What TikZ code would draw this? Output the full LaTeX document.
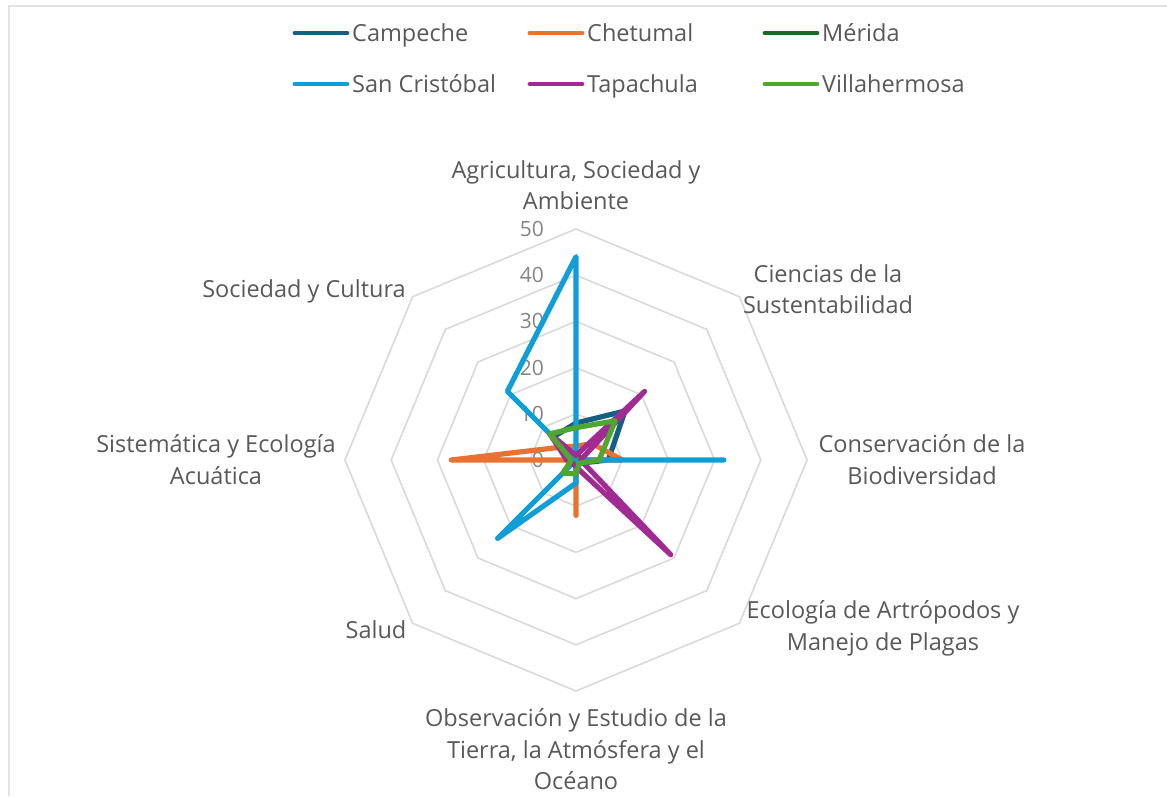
\documentclass[tikz,border=0pt]{standalone}
\usepackage{fontspec}
\setmainfont{Open Sans}
\definecolor{cCam}{HTML}{156082}
\definecolor{cChe}{HTML}{E97132}
\definecolor{cMer}{HTML}{196B24}
\definecolor{cSan}{HTML}{0F9ED5}
\definecolor{cTap}{HTML}{A02B93}
\definecolor{cVil}{HTML}{4EA72E}
\definecolor{gridc}{HTML}{D9D9D9}
\definecolor{framec}{HTML}{E3E3E3}
\definecolor{labc}{HTML}{595959}
\definecolor{tickc}{HTML}{858585}
\newcommand{\uu}{4.62}
\begin{document}
\begin{tikzpicture}[x=1pt,y=1pt,
  gridring/.style={draw=gridc, line width=1.6pt, line join=miter},
  ser/.style={line width=5.2pt, line join=round, line cap=round},
  lab/.style={text=labc, font=\fontsize{23.5}{31.5}\selectfont, align=center, inner sep=0pt},
  ticklab/.style={text=tickc, font=\fontsize{21}{25}\selectfont, anchor=east, inner sep=0pt},
  legline/.style={line width=4.8pt, line cap=round},
  legtxt/.style={text=labc, font=\fontsize{23.5}{31.5}\selectfont, anchor=base west, inner sep=0pt}]
\useasboundingbox[fill=white] (0,0) rectangle (1167,796);
\draw[draw=framec, line width=2pt] (8.5,0) -- (8.5,789.5) -- (1167,789.5);
\coordinate (C) at (576,336);
% rings
\begin{scope}[shift={(C)}]
\foreach \k in {1,...,5}{
  \draw[gridring] (90:{\k*10*\uu}) -- (45:{\k*10*\uu}) -- (0:{\k*10*\uu}) -- (-45:{\k*10*\uu}) -- (-90:{\k*10*\uu}) -- (-135:{\k*10*\uu}) -- (180:{\k*10*\uu}) -- (135:{\k*10*\uu}) -- cycle;
}
\end{scope}
% tick labels
\foreach \k/\t in {0/0,1/10,2/20,3/30,4/40,5/50}{
  \node[ticklab] (t\k) at (544,{336+\k*10*\uu}) {\t};
}
% series
\begin{scope}[shift={(C)}]
\newcommand{\series}[9]{%
  \draw[ser, #1] (90:{#2*\uu}) -- (45:{#3*\uu}) -- (0:{#4*\uu}) -- (-45:{#5*\uu}) -- (-90:{#6*\uu}) -- (-135:{#7*\uu}) -- (180:{#8*\uu}) -- (135:{#9*\uu}) -- cycle;}
\series{cCam}{8}{15}{7}{1}{1}{1}{1}{7}
\series{cChe}{3}{5}{10}{0}{12}{0}{27}{4}
\series{cMer}{1}{1}{1}{1}{1}{1}{1}{1}
\series{cSan}{44}{0}{32}{0}{5}{24}{0}{21}
\series{cTap}{1}{21}{1}{29}{1.5}{1}{2}{8}
\series{cVil}{7}{12}{5}{1}{3}{4}{1}{8}
\end{scope}
% axis labels
\node[lab] (a1) at (576,611) {Agricultura, Sociedad y\\Ambiente};
\node[lab] (a2) at (828,507) {Ciencias de la\\Sustentabilidad};
\node[lab] (a3) at (922,336.5) {Conservación de la\\Biodiversidad};
\node[lab] (a4) at (883,167.5) {Ecología de Artrópodos y\\Manejo de Plagas};
\node[lab] (a5) at (576,46.5) {Observación y Estudio de la\\Tierra, la Atmósfera y el\\Océano};
\node[lab] (a6) at (376,166) {Salud};
\node[lab] (a7) at (216,336.5) {Sistemática y Ecología\\Acuática};
\node[lab] (a8) at (304,505) {Sociedad y Cultura};
% legend
\node[legtxt] (l1) at (352,754.5) {Campeche};
\node[legtxt] (l2) at (587,754.5) {Chetumal};
\node[legtxt] (l3) at (822,754.5) {Mérida};
\node[legtxt] (l4) at (352,703.5) {San Cristóbal};
\node[legtxt] (l5) at (587,703.5) {Tapachula};
\node[legtxt] (l6) at (822,703.5) {Villahermosa};
\draw[legline, cCam] (295,763) -- (347,763);
\draw[legline, cChe] (530,763) -- (582,763);
\draw[legline, cMer] (765,763) -- (817,763);
\draw[legline, cSan] (295,712) -- (347,712);
\draw[legline, cTap] (530,712) -- (582,712);
\draw[legline, cVil] (765,712) -- (817,712);
\end{tikzpicture}
\end{document}
